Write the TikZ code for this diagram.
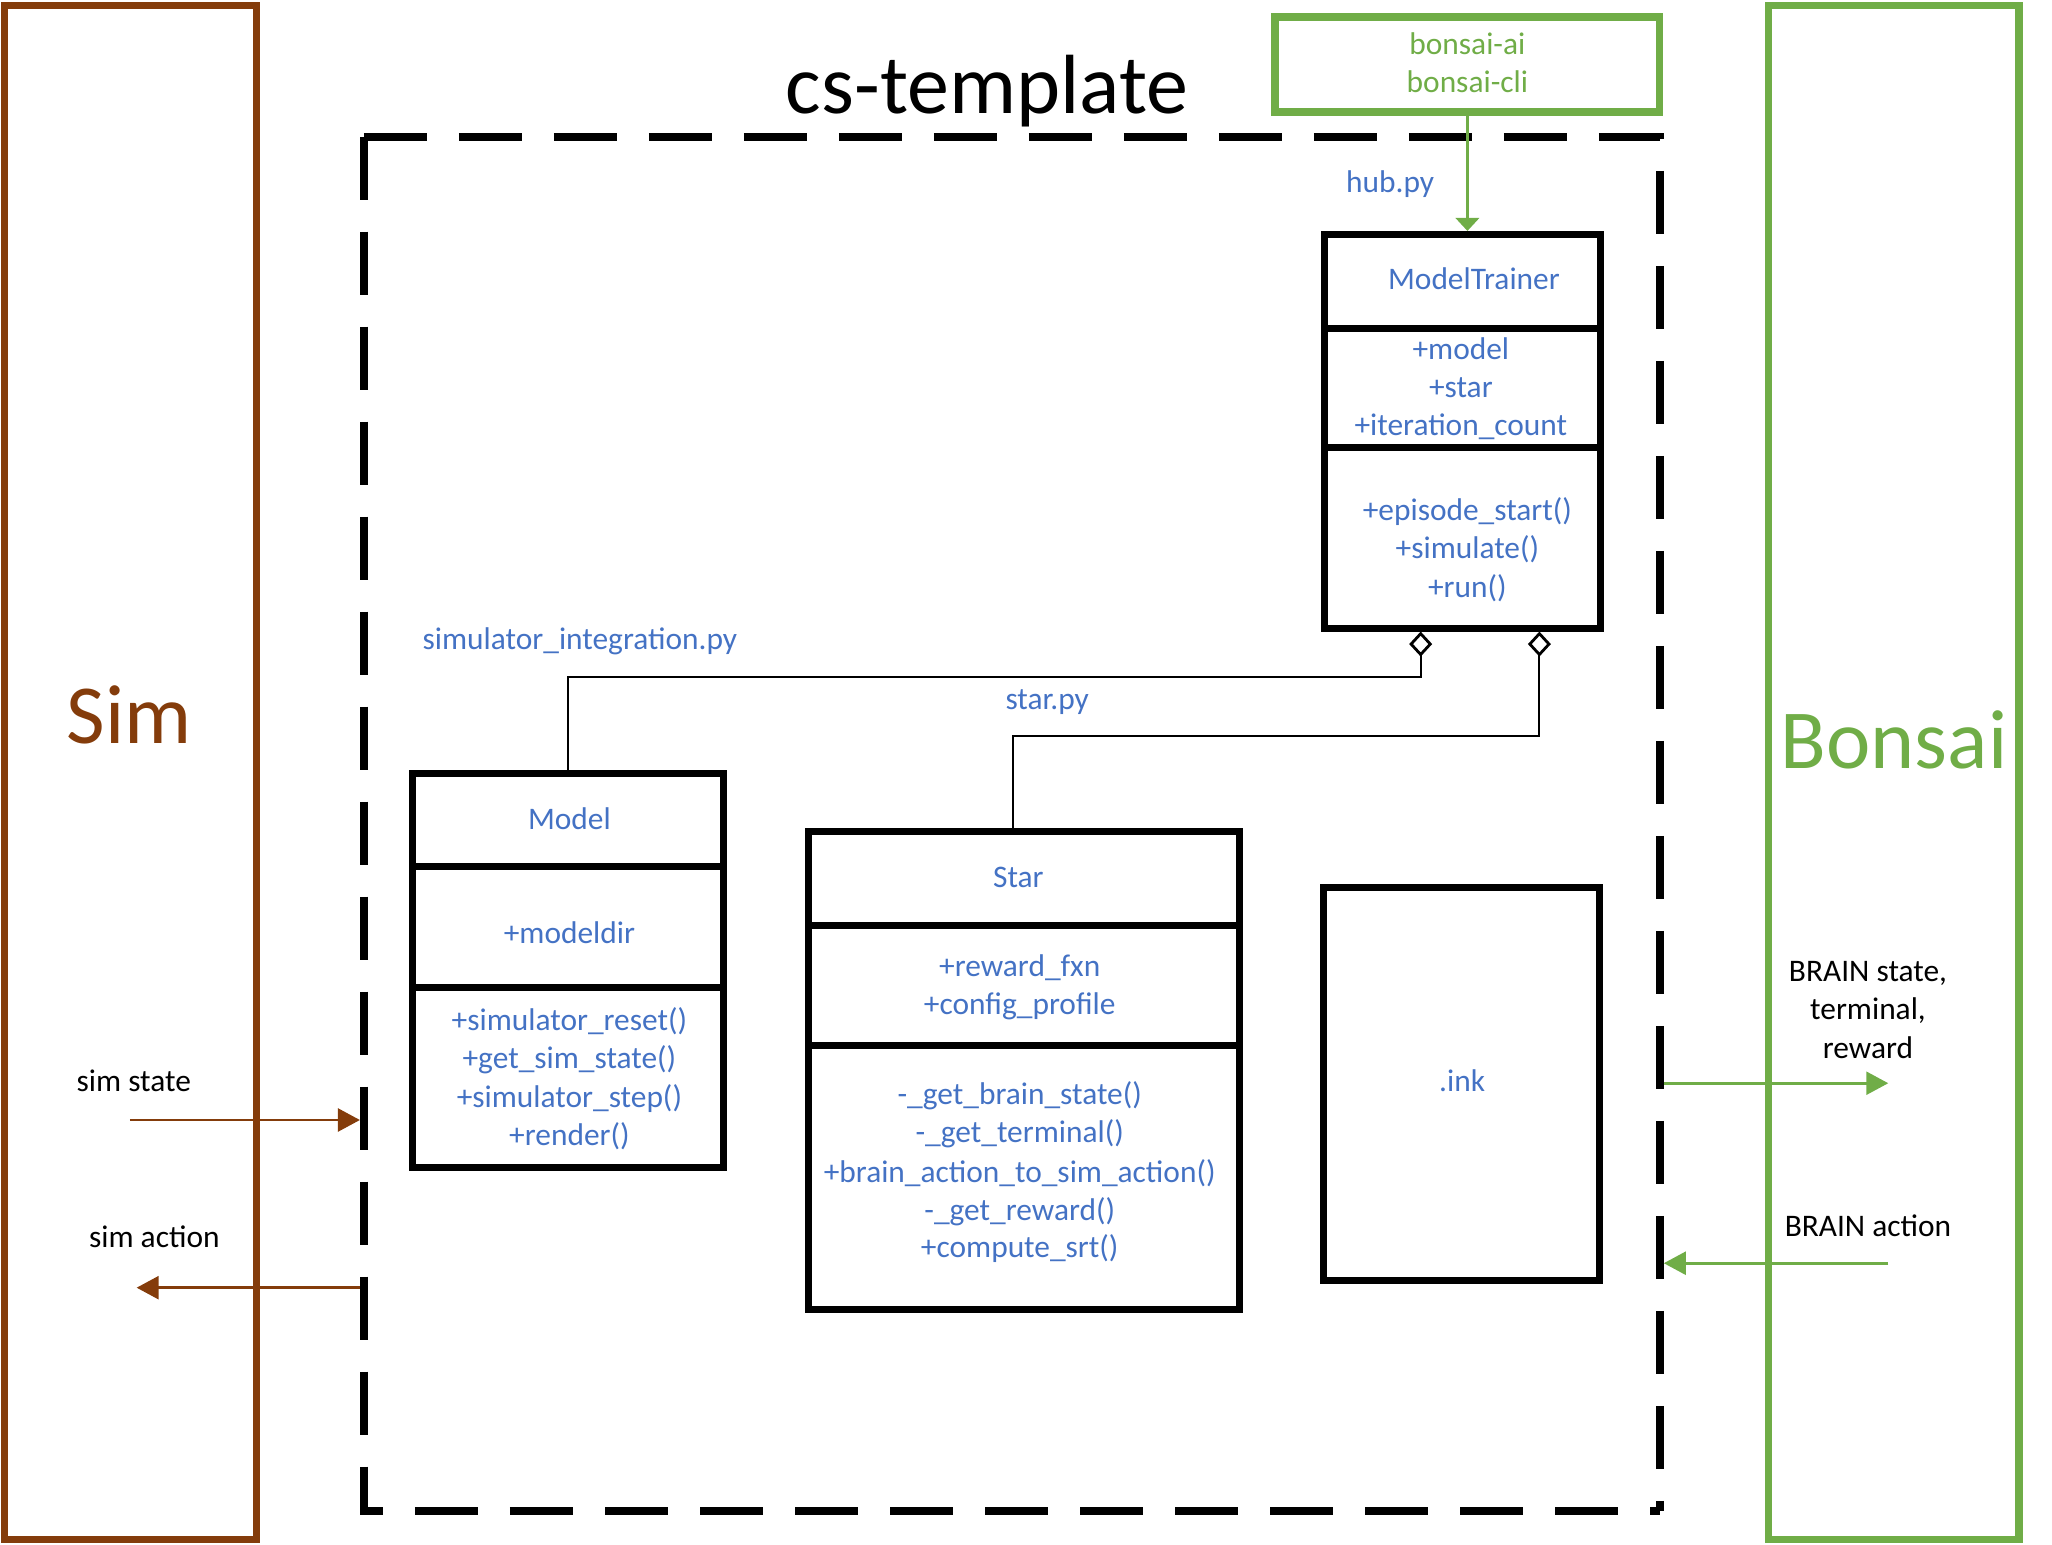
\documentclass[tikz,border=0pt]{standalone}
\usepackage{fontspec}
\setmainfont{Carlito}
\usetikzlibrary{arrows.meta,fit,calc}
\definecolor{simbrown}{HTML}{843C0B}
\definecolor{bgreen}{HTML}{70AD47}
\definecolor{cblue}{HTML}{4472C4}
\begin{document}
\begin{tikzpicture}[x=0.6545pt, y=-0.6545pt,
  every node/.style={inner sep=0pt},
  txt/.style={font=\fontsize{15.7}{19}\selectfont, anchor=base},
  cls/.style={txt, text=cblue},
  big/.style={font=\fontsize{42}{50}\selectfont, anchor=base},
  simbox/.style={draw=simbrown, line width=3.5pt, inner sep=0pt},
  bonsaibox/.style={draw=bgreen, line width=3.6pt, inner sep=0pt},
  dashframe/.style={draw=none, line width=4pt, inner sep=0pt},
  dashline/.style={draw=black, line width=4pt, dash pattern=on 31.5pt off 16pt},
  classbox/.style={draw=black, line width=3.5pt, inner sep=0pt},
  divline/.style={draw=black, line width=3.5pt},
  conn/.style={draw=black, line width=1pt, arrows={{Diamond[open, length=12.5pt, width=11.5pt, line width=1.4pt]}-}},
  barrow/.style={draw=simbrown, line width=1.3pt, arrows={-{Triangle[length=11pt,width=11.5pt]}}},
  garrow/.style={draw=bgreen, line width=1.3pt, arrows={-{Triangle[length=11pt,width=11.5pt]}}},
  garrowtop/.style={draw=bgreen, line width=1.3pt, arrows={-{Triangle[length=6.5pt,width=11.7pt]}}}
]
\useasboundingbox (0,0) rectangle (1567.6,1179.6);

% outer Sim / Bonsai boxes
\coordinate (simTL) at (3.8,4); \coordinate (simBR) at (196.3,1176);
\node[simbox, fit=(simTL)(simBR)] (sim) {};
\node[big, text=simbrown] (simlbl) at (98.7,568) {Sim};
\coordinate (bonTL) at (1350.7,4); \coordinate (bonBR) at (1542.4,1176);
\node[bonsaibox, fit=(bonTL)(bonBR)] (bonsai) {};
\node[big, text=bgreen] (bonlbl) at (1447,587) {Bonsai};

% cs-template dashed box
\coordinate (csTL) at (278,104.4); \coordinate (csBR) at (1268,1154);
\node[dashframe, fit=(csTL)(csBR)] (cs) {};
\draw[dashline] (csTL) -- (csTL -| csBR) -- (csBR);
\draw[dashline] (csTL) -- (csBR -| csTL) -- (csBR);
\node[big] (cslbl) at (754,86.5) {cs-template};

% bonsai-ai box
\coordinate (hbTL) at (974,13); \coordinate (hbBR) at (1268,85.6);
\node[bonsaibox, fit=(hbTL)(hbBR)] (hubbox) {};
\node[txt, text=bgreen] (bai) at (1121,41.3) {bonsai-ai};
\node[txt, text=bgreen] (bcli) at (1121,70.3) {bonsai-cli};
\node[cls] (hublbl) at (1062,147.4) {hub.py};

% ModelTrainer
\coordinate (mtTL) at (1011.5,179.1); \coordinate (mtBR) at (1222.3,479.8);
\node[classbox, fit=(mtTL)(mtBR)] (mt) {};
\draw[divline] (1011.5,250.6) -- (1222.3,250.6);
\draw[divline] (1011.5,342.2) -- (1222.3,342.2);
\node[cls] (mtname) at (1126,221.5) {ModelTrainer};
\node[cls] (mta1) at (1116,275) {+model};
\node[cls] (mta2) at (1116,304) {+star};
\node[cls] (mta3) at (1116,333) {+iteration\_count};
\node[cls] (mtm1) at (1121,397.5) {+episode\_start()};
\node[cls] (mtm2) at (1121,427) {+simulate()};
\node[cls] (mtm3) at (1121,456.5) {+run()};

% Model
\coordinate (mdTL) at (315,591); \coordinate (mdBR) at (553,892);
\node[classbox, fit=(mdTL)(mdBR)] (mdl) {};
\draw[divline] (315,662) -- (553,662);
\draw[divline] (315,754) -- (553,754);
\node[cls] (mdname) at (435,634) {Model};
\node[cls] (mda1) at (435,721) {+modeldir};
\node[cls] (mdm1) at (435,787) {+simulator\_reset()};
\node[cls] (mdm2) at (435,816) {+get\_sim\_state()};
\node[cls] (mdm3) at (435,846) {+simulator\_step()};
\node[cls] (mdm4) at (435,875) {+render()};
\node[cls] (silbl) at (443,496) {simulator\_integration.py};

% Star
\coordinate (stTL) at (618,635); \coordinate (stBR) at (947,1000);
\node[classbox, fit=(stTL)(stBR)] (star) {};
\draw[divline] (618,707) -- (947,707);
\draw[divline] (618,799) -- (947,799);
\node[cls] (stname) at (778,678) {Star};
\node[cls] (sta1) at (779,746) {+reward\_fxn};
\node[cls] (sta2) at (779,775) {+config\_profile};
\node[cls] (stm1) at (779,844) {-\_get\_brain\_state()};
\node[cls] (stm2) at (779,873) {-\_get\_terminal()};
\node[cls] (stm3) at (779,903) {+brain\_action\_to\_sim\_action()};
\node[cls] (stm4) at (779,932) {-\_get\_reward()};
\node[cls] (stm5) at (779,961) {+compute\_srt()};
\node[cls] (starlbl) at (800,542) {star.py};

% .ink
\coordinate (inkTL) at (1011,678); \coordinate (inkBR) at (1222,978);
\node[classbox, fit=(inkTL)(inkBR)] (ink) {};
\node[cls] (inklbl) at (1117,834) {.ink};

% connectors
\coordinate (k0) at (1121,0);
\coordinate (k1) at (1085.3,0);
\coordinate (k2) at (1176,0);
\coordinate (k3) at (774,0);
\draw[garrowtop] (hubbox.south -| k0) -- (mt.north -| k0);
\draw[conn] (mt.south -| k1) -- ++(0,34.5) -| (mdl.north);
\draw[conn] (mt.south -| k2) -- ++(0,79.5) -| (star.north -| k3);

% side flows
\coordinate (ssS) at (99.3,855.6);
\coordinate (saE) at (104.4,983.7);
\coordinate (bsE) at (1442.5,827.5);
\coordinate (baS) at (1442.5,965);
\draw[barrow] (ssS) -- (ssS -| cs.west);
\draw[barrow] (saE -| cs.west) -- (saE);
\draw[garrow] (bsE -| cs.east) -- (bsE);
\draw[garrow] (baS) -- (baS -| cs.east);
\node[txt] (sslbl) at (102.2,834) {sim state};
\node[txt] (salbl) at (117.9,953) {sim action};
\node[txt] (bs1) at (1427,750) {BRAIN state,};
\node[txt] (bs2) at (1427,779) {terminal,};
\node[txt] (bs3) at (1427,808.5) {reward};
\node[txt] (balbl) at (1427,944.3) {BRAIN action};
\end{tikzpicture}
\end{document}
